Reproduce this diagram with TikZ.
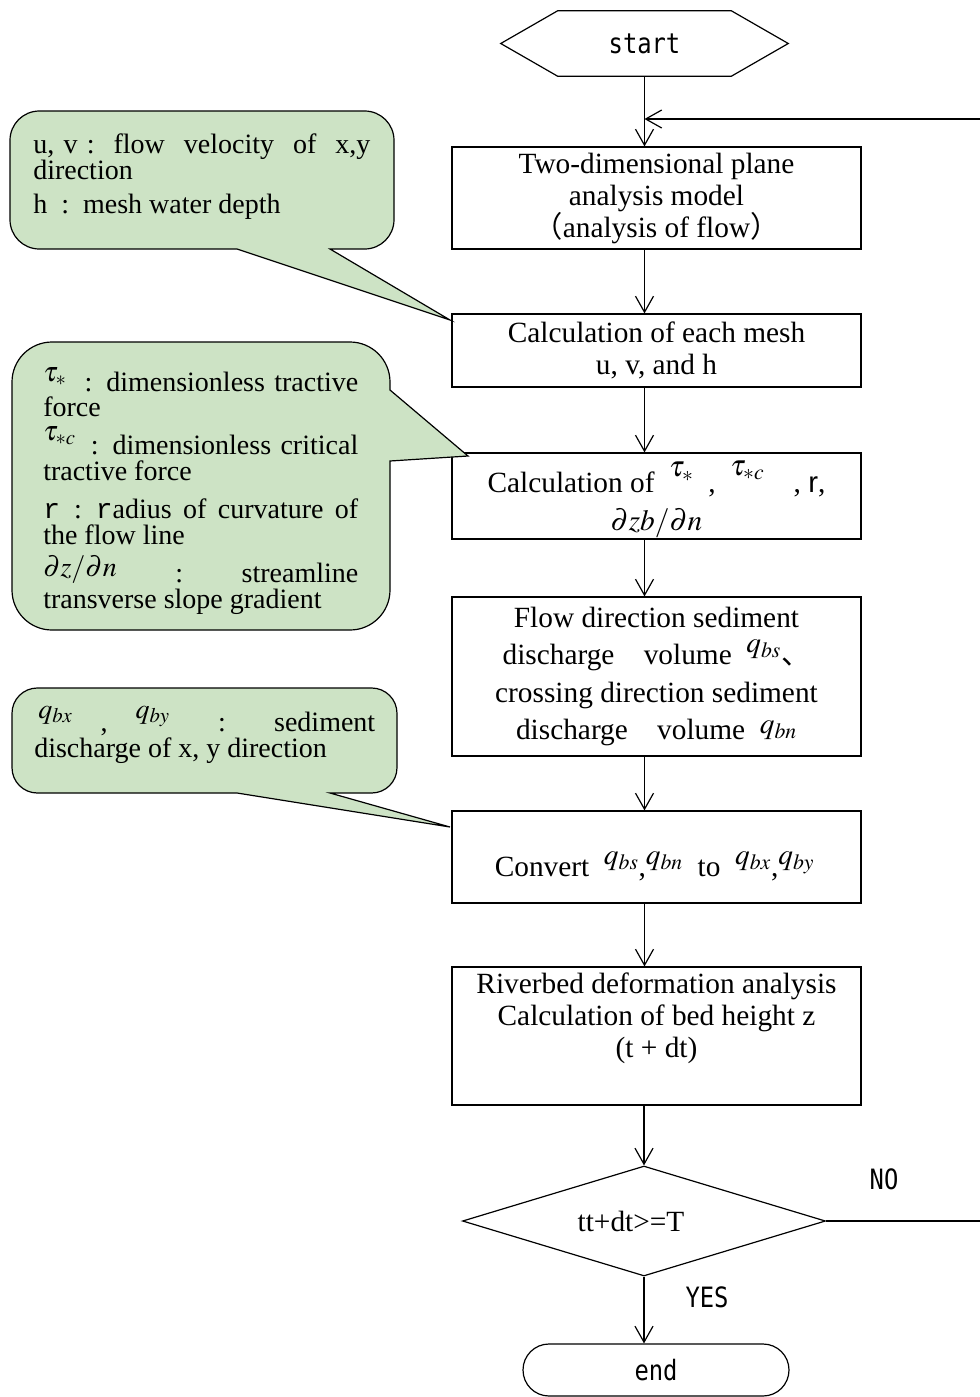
\documentclass[tikz,border=0pt]{standalone}
\usepackage{amsmath}
\usepackage{mathptmx}
\usepackage{fontspec}
\setmainfont{Liberation Serif}
\setsansfont{Liberation Sans}
\setmonofont{Liberation Mono}
\newfontfamily\gothic[FakeStretch=0.85]{DejaVu Sans Mono}
\newfontfamily\cjk{Noto Sans CJK JP}
\usetikzlibrary{arrows.meta,shapes.geometric,shapes.misc,calc}
\definecolor{notegreen}{RGB}{205,227,197}
\newcommand{\lift}[2]{\smash{\raisebox{#1}{#2}}}
\newcommand{\boxfont}{\fontsize{22}{24}\selectfont}
\newcommand{\notefont}{\fontsize{21}{19.5}\selectfont}
\newcommand{\termfont}{\gothic\fontsize{21}{23}\selectfont}

\begin{document}
\begin{tikzpicture}[x=0.75pt,y=0.75pt,yscale=-1,xscale=1,
  every node/.style={inner sep=0pt},
  flowbox/.style={draw,line width=0.9pt,minimum width=306.75pt,align=center,font=\boxfont},
  arr/.style={line width=0.9pt,-{Straight Barb[length=12pt,width=13.5pt,line width=0.9pt]}},
  note/.style={draw,line width=0.9pt,fill=notegreen},
  notetext/.style={anchor=base west,font=\notefont,execute at begin node={\noindent}}]
\useasboundingbox (0,0) rectangle (980,1397);

%Shape: Hexagon
\node[font=\termfont,minimum width=129.75pt,minimum height=48.75pt] (start) at (644.5,43.5) {start};
\draw[line width=0.9pt] (start.north west) -- (start.north east) -- ($(start.east)+(57,0)$) -- (start.south east) -- (start.south west) -- ($(start.west)+(-57,0)$) -- cycle;

%Shape: Rectangle
\node[flowbox,minimum height=76.5pt] (b1) at (656.5,198) {Two-dimensional plane\\analysis model\\{\cjk （}analysis of flow{\cjk ）}};
%Shape: Rectangle
\node[flowbox,minimum height=54.75pt] (b2) at (656.5,350.5) {Calculation of each mesh\\u, v, and h};
%Shape: Rectangle
\node[flowbox,minimum height=64.5pt] (b3) at (656.5,496) {};
% Text Node
\node[font=\boxfont,align=center] (b3t) at ($(b3)+(0,9)$) {Calculation of\enspace\lift{12pt}{$\tau_*$}\enspace,\enspace\lift{13pt}{$\tau_{*c}$}\quad, {\sffamily r},\\[4.5pt]$\partial zb/\partial n$};
%Shape: Rectangle
\node[flowbox,minimum height=119.25pt,font=\fontsize{22}{28}\selectfont] (b4) at (656.5,676.5) {Flow direction sediment\\discharge\quad volume\enspace\lift{9pt}{$q_{bs}$}{\cjk 、}\\crossing direction sediment\\discharge\quad volume\enspace\lift{4.5pt}{$q_{bn}$}};
%Shape: Rectangle
\node[flowbox,minimum height=69pt] (b5) at (656.5,857) {};
% Text Node
\node[font=\boxfont] (b5t) at ($(b5)+(-2,12)$) {Convert\enspace\lift{9pt}{$q_{bs}$},\lift{9pt}{$q_{bn}$}\enspace to\enspace\lift{9pt}{$q_{bx}$},\lift{9pt}{$q_{by}$}};
%Shape: Rectangle
\node[flowbox,minimum height=103.5pt] (b6) at (656.5,1036) {Riverbed deformation analysis\\Calculation of bed height z\\(t + dt)\\\strut};
%Shape: Diamond
\node[draw,line width=0.9pt,diamond,minimum width=272.25pt,minimum height=82.5pt] (dec) at (644,1221) {};
% Text Node
\node[font=\boxfont] (dect) at ($(dec)+(-13,0)$) {tt+dt>=T};
%Shape: Terminal
\node[draw,line width=0.9pt,rounded rectangle,minimum width=199.5pt,minimum height=39pt,font=\termfont] (fin) at (656,1370) {end};

% Text Node
\node[font=\termfont] (yes) at (707,1297) {YES};
% Text Node
\node[font=\termfont] (no) at (884,1179) {NO};

%Straight Lines
\draw[arr] (start.south) -- (start.south |- b1.north);
\draw[arr] (b1.south -| start.south) -- (b2.north -| start.south);
\draw[arr] (b2.south -| start.south) -- (b3.north -| start.south);
\draw[arr] (b3.south -| start.south) -- (b4.north -| start.south);
\draw[arr] (b4.south -| start.south) -- (b5.north -| start.south);
\draw[arr] (b5.south -| start.south) -- (b6.north -| start.south);
\draw[arr] (b6.south -| dec.north) -- (dec.north);
\draw[arr] (dec.south) -- (dec.south |- fin.north);
%Straight Lines (back to the model)
\coordinate (ret) at (984,119);
\draw[arr] (dec.east) -| (ret) -- (ret -| start.south);

%Shape: Callout
\draw[note] (237,249) -- (450,320) -- (330,249) [rounded corners=22pt] -- (394,249) -- (394,111) -- (10,111) -- (10,249) [sharp corners] -- cycle;
% Text Node
\node[notetext,text width=252.75pt] (n1a) at (33,153) {u, v :\hfill flow\hfill velocity\hfill of\hfill x,y};
\node[notetext] (n1b) at (33,179) {direction};
\node[notetext] (n1c) at (33,213) {h\enspace:\enspace mesh water depth};

%Shape: Callout
\draw[note] (390,390) -- (468,456) -- (390,461) [rounded corners=30pt] -- (390,630) -- (12,630) -- (12,342) -- (390,342) [sharp corners] -- cycle;
% Text Node
\node[notetext,text width=236.25pt] (n2a) at (43,391) {\lift{7.5pt}{$\tau_*$}\hfill: dimensionless tractive};
\node[notetext] (n2b) at (43,416) {force};
\node[notetext,text width=236.25pt] (n2c) at (43,454) {\lift{10.5pt}{$\tau_{*c}$}\hfill: dimensionless critical};
\node[notetext] (n2d) at (43,480) {tractive force};
\node[notetext,text width=236.25pt] (n2e) at (43,518) {{\ttfamily r}\enspace: {\ttfamily r}adius\hfill of\hfill curvature\hfill of};
\node[notetext] (n2f) at (43,544) {the flow line};
\node[notetext,text width=236.25pt] (n2g) at (43,582) {\lift{4.5pt}{$\partial z/\partial n$}\hfill:\hfill streamline};
\node[notetext] (n2h) at (43,608) {transverse slope gradient};

%Shape: Callout
\draw[note] (237,793) -- (450,827) -- (330,793) [rounded corners=19pt] -- (397,793) -- (397,688) -- (12,688) -- (12,793) [sharp corners] -- cycle;
% Text Node
\node[notetext,text width=252.75pt] (n3a) at (38,731) {\lift{9.75pt}{$q_{bx}$}\quad,\quad\lift{9.75pt}{$q_{by}$}\hfill:\hfill sediment};
\node[notetext] (n3b) at (34,757) {discharge of x, y direction};

\end{tikzpicture}
\end{document}
